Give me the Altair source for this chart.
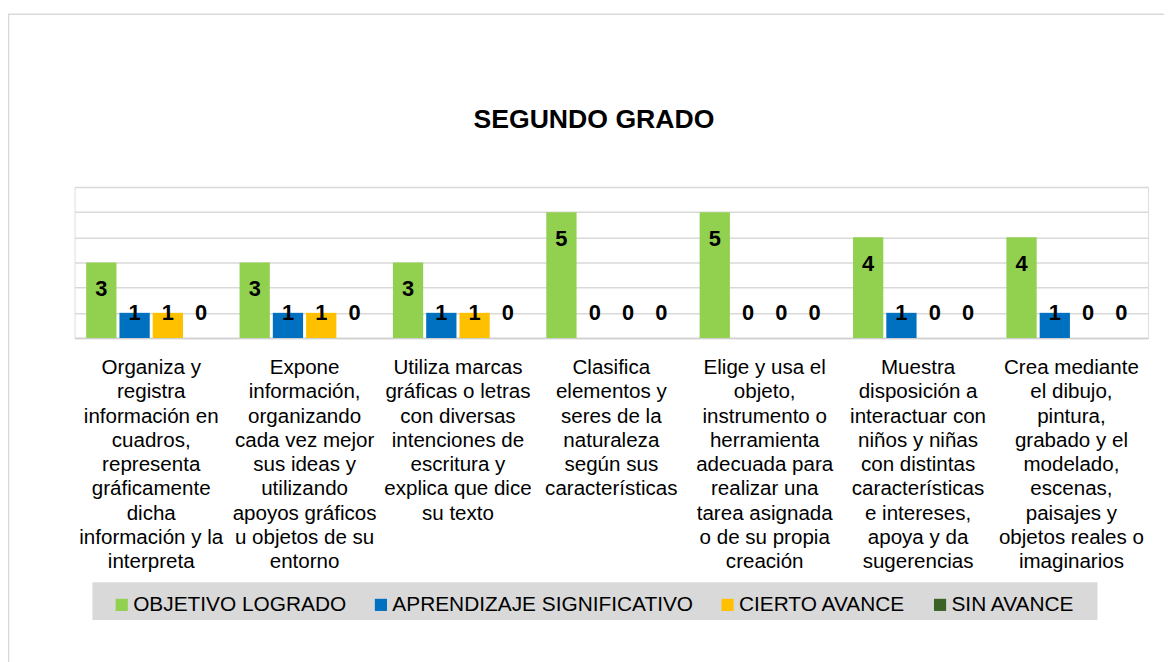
import altair as alt
import pandas as pd

categories = [
    "Organiza y|registra|información en|cuadros,|representa|gráficamente|dicha|información y la|interpreta",
    "Expone|información,|organizando|cada vez mejor|sus ideas y|utilizando|apoyos gráficos|u objetos de su|entorno",
    "Utiliza marcas|gráficas o letras|con diversas|intenciones de|escritura y|explica que dice|su texto",
    "Clasifica|elementos y|seres de la|naturaleza|según sus|características",
    "Elige y usa el|objeto,|instrumento o|herramienta|adecuada para|realizar una|tarea asignada|o de su propia|creación",
    "Muestra|disposición a|interactuar con|niños y niñas|con distintas|características|e intereses,|apoya y da|sugerencias",
    "Crea mediante|el dibujo,|pintura,|grabado y el|modelado,|escenas,|paisajes y|objetos reales o|imaginarios",
]
series = ["OBJETIVO LOGRADO", "APRENDIZAJE SIGNIFICATIVO", "CIERTO AVANCE", "SIN AVANCE"]
objetivo_logrado = [3, 3, 3, 5, 5, 4, 4]
aprendizaje_significativo = [1, 1, 1, 0, 0, 1, 1]
cierto_avance = [1, 1, 1, 0, 0, 0, 0]
sin_avance = [0, 0, 0, 0, 0, 0, 0]
colors = ["#92d050", "#0070c0", "#ffc000", "#3b6326"]
y_ticks = [0, 1, 2, 3, 4, 5, 6]
title_text = "SEGUNDO GRADO"

FONT = "Liberation Sans"

rows = []
for s, vals in zip(series, [objetivo_logrado, aprendizaje_significativo, cierto_avance, sin_avance]):
    for c, v in zip(categories, vals):
        rows.append({"categoria": c, "serie": s, "valor": v})
df = pd.DataFrame(rows)

x_axis = alt.Axis(
    title=None,
    labelExpr="split(datum.label, '|')",
    labelAngle=0,
    labelFont=FONT,
    labelFontSize=20.7,
    labelLineHeight=24.4,
    labelColor="#000000",
    labelPadding=20,
    labelLimit=300,
    ticks=False,
    domain=True,
    domainColor="#cfcfcf",
    domainWidth=1.5,
    grid=False,
    labelBaseline="top",
)
y_axis = alt.Axis(
    title=None,
    values=y_ticks,
    labels=False,
    ticks=False,
    domain=False,
    grid=True,
    gridColor="#d9d9d9",
    gridWidth=1.5,
)
x_enc = alt.X(
    "categoria:N",
    sort=categories,
    scale=alt.Scale(paddingInner=0, paddingOuter=0),
    axis=x_axis,
)
xoff = alt.XOffset(
    "serie:N",
    sort=series,
    scale=alt.Scale(paddingInner=0.09, paddingOuter=0.35),
)
y_scale = alt.Scale(domain=[0, 6], nice=False)

base = alt.Chart(df)

bars = base.mark_bar().encode(
    x=x_enc,
    xOffset=xoff,
    y=alt.Y("valor:Q", scale=y_scale, axis=y_axis),
    color=alt.Color(
        "serie:N",
        sort=series,
        scale=alt.Scale(domain=series, range=colors),
        legend=alt.Legend(
            title=None,
            orient="none",
            direction="horizontal",
            legendX=37,
            legendY=410,
            symbolType="square",
            symbolSize=150,
            symbolStrokeWidth=0,
            labelFont=FONT,
            labelFontSize=21,
            labelColor="#000000",
            labelOffset=1,
            columnPadding=24,
            labelLimit=400,
            zindex=1,
        ),
    ),
)

labels = base.transform_calculate(
    pos="datum.valor >= 2 ? datum.valor - 1.07 : 0.99"
).mark_text(
    font=FONT, fontSize=22, fontWeight="bold", color="#000000", baseline="middle", align="center"
).encode(
    x=x_enc,
    xOffset=xoff,
    y=alt.Y("pos:Q", scale=y_scale, axis=y_axis),
    text="valor:Q",
)

deco = alt.Chart(pd.DataFrame({"k": [0]}))
legend_bg = deco.mark_rect(color="#d9d9d9").encode(
    x=alt.value(18), x2=alt.value(1030), y=alt.value(398), y2=alt.value(436)
)
border_top = deco.mark_rule(color="#d9d9d9", strokeWidth=1.5).encode(
    x=alt.value(-67), x2=alt.value(1120), y=alt.value(-174)
)
border_left = deco.mark_rule(color="#d9d9d9", strokeWidth=1.5).encode(
    x=alt.value(-66.5), y=alt.value(-174), y2=alt.value(480)
)
title = deco.mark_text(
    text=title_text, font=FONT, fontSize=26.8, fontWeight="bold", color="#000000",
    align="center", baseline="middle"
).encode(x=alt.value(523), y=alt.value(-67))

chart = alt.layer(legend_bg, border_top, border_left, title, bars, labels).properties(
    width=1081,
    height=152,
    padding={"left": 67, "top": 178, "right": 16, "bottom": 324},
    autosize=alt.AutoSizeParams(type="none"),
).configure_view(stroke=None).configure(background="white")

chart.save("out.html", embed_options={"renderer": "svg", "actions": False})
